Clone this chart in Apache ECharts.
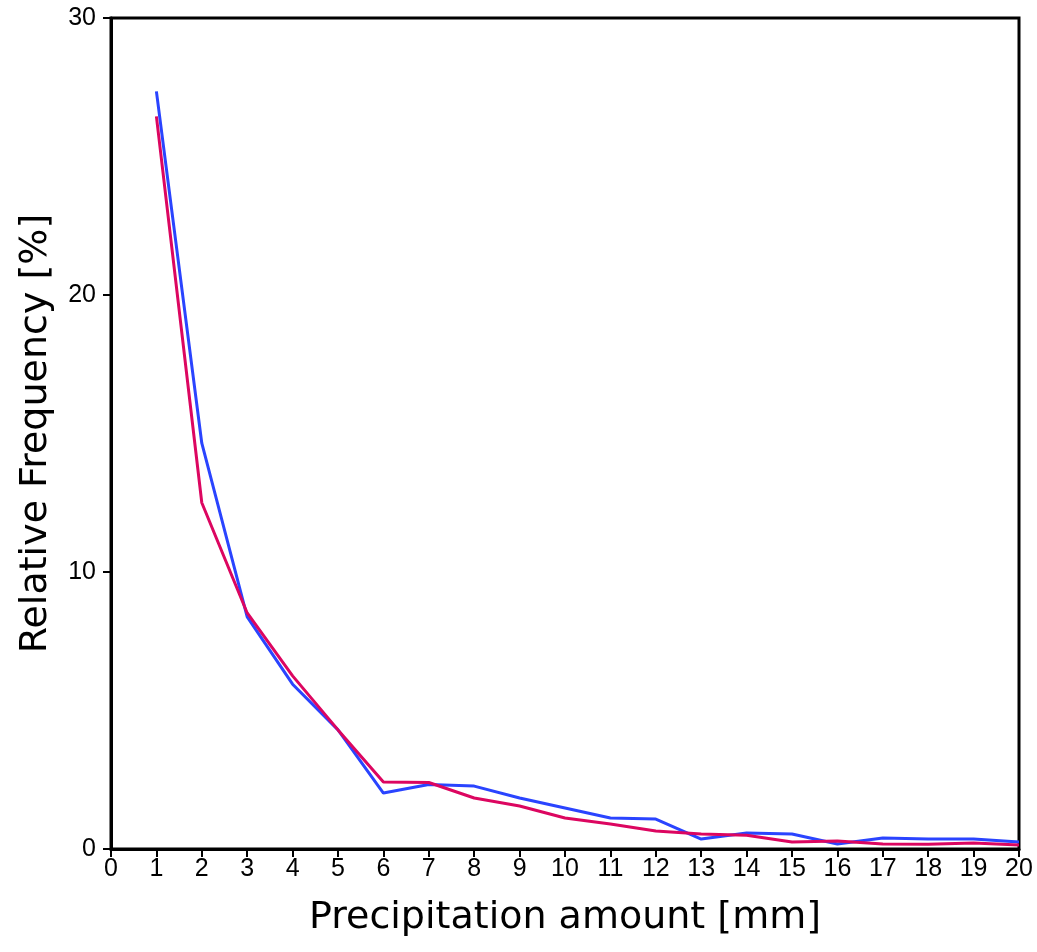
<!DOCTYPE html>
<html><head><meta charset="utf-8">
<script src="https://cdn.jsdelivr.net/npm/echarts@6/dist/echarts.min.js"></script>
<style>html,body{margin:0;padding:0;background:#fff}#c{width:1037px;height:952px}</style>
</head><body><div id="c"></div>
<script>
const xValues = [1,2,3,4,5,6,7,8,9,10,11,12,13,14,15,16,17,18,19,20];
const blueSeries = [27.35,14.65,8.38,5.95,4.3,2.02,2.33,2.27,1.84,1.48,1.12,1.08,0.36,0.58,0.54,0.18,0.4,0.36,0.36,0.25];
const redSeries = [26.45,12.5,8.52,6.25,4.3,2.42,2.40,1.84,1.55,1.12,0.9,0.65,0.54,0.5,0.25,0.29,0.18,0.17,0.22,0.14];
const xTitle = 'Precipitation amount [mm]';
const yTitle = 'Relative Frequency [%]';

const titleFont = '"DejaVu Sans", sans-serif';
const tickFont = '"Liberation Sans Narrow", "Liberation Sans", sans-serif';
const chart = echarts.init(document.getElementById('c'), null, {renderer:'canvas'});
chart.setOption({
  animation:false,
  grid:{left:111,right:18,top:18,bottom:103,containLabel:false,outerBoundsMode:'none',
        show:true,borderColor:'#000',borderWidth:3,backgroundColor:'transparent'},
  xAxis:{type:'value',min:0,max:20,interval:1,
    name:xTitle,nameLocation:'middle',nameGap:50,
    nameTextStyle:{fontFamily:titleFont,fontSize:38,color:'#000'},
    axisLine:{show:true,lineStyle:{color:'#000',width:3}},
    axisTick:{show:true,length:8,lineStyle:{color:'#000',width:2}},
    axisLabel:{fontFamily:tickFont,fontSize:25,color:'#000',margin:8},
    splitLine:{show:false}},
  yAxis:{type:'value',min:0,max:30,interval:10,
    name:yTitle,nameLocation:'middle',nameGap:56,
    nameTextStyle:{fontFamily:titleFont,fontSize:38,color:'#000'},
    axisLine:{show:true,lineStyle:{color:'#000',width:3}},
    axisTick:{show:true,length:8,lineStyle:{color:'#000',width:2}},
    axisLabel:{fontFamily:tickFont,fontSize:25,color:'#000',margin:15},
    splitLine:{show:false}},
  series:[
    {type:'line',data:xValues.map((x,i)=>[x,blueSeries[i]]),symbol:'none',lineStyle:{color:'#2a44ff',width:3}},
    {type:'line',data:xValues.map((x,i)=>[x,redSeries[i]]),symbol:'none',lineStyle:{color:'#dc0660',width:3}}
  ]
});
</script></body></html>
